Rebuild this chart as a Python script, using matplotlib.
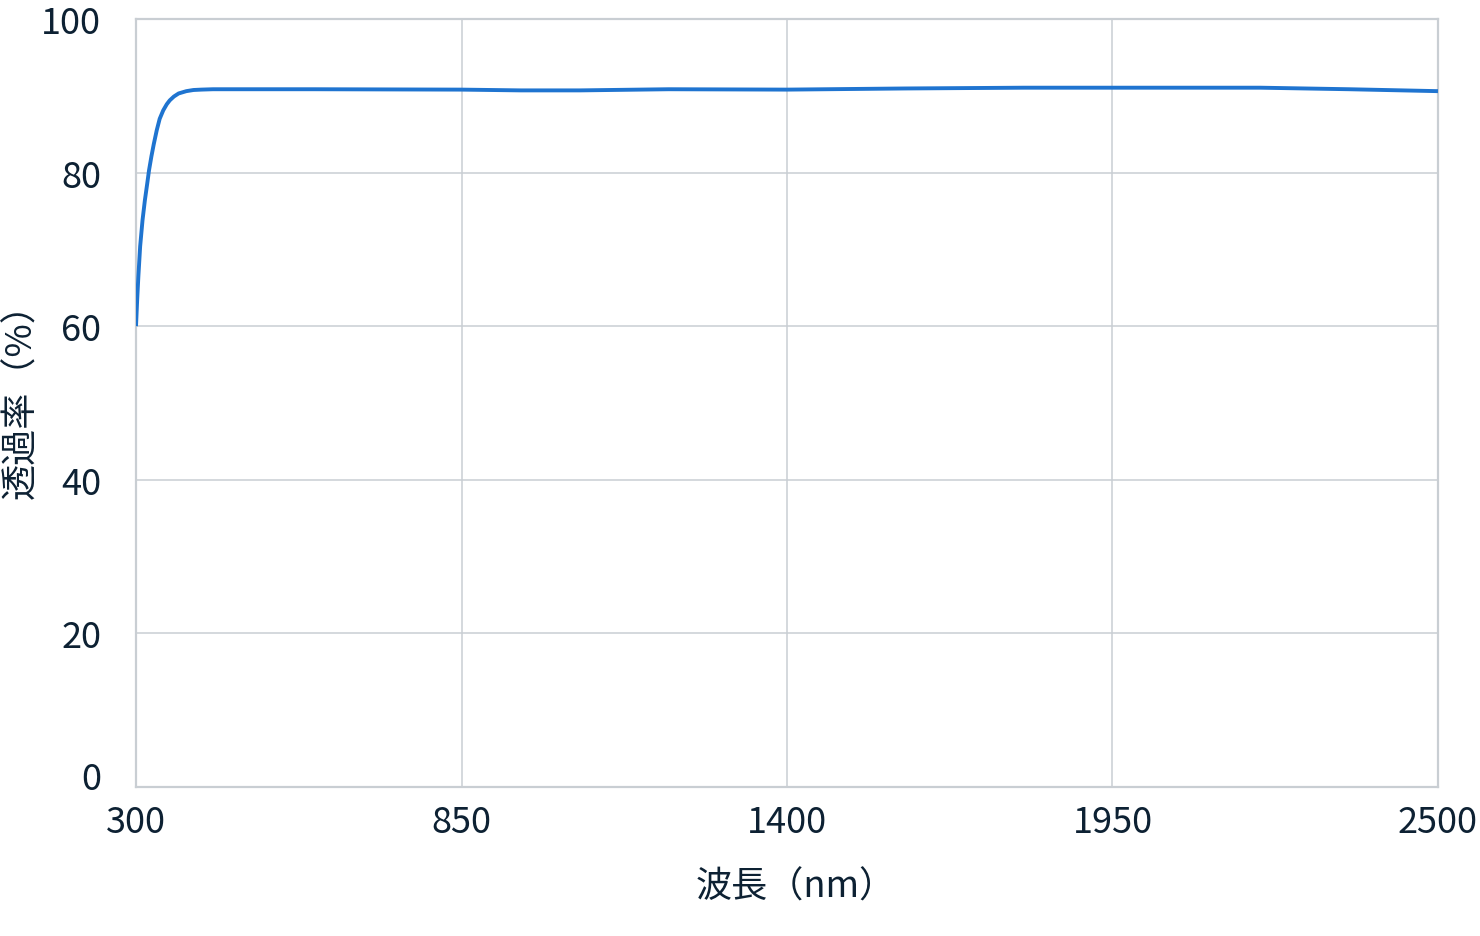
import matplotlib
matplotlib.use("Agg")
import matplotlib.pyplot as plt
import matplotlib.transforms as mtransforms

plt.rcParams['font.family'] = ['Noto Sans CJK JP', 'DejaVu Sans']

# wavelength (nm) and transmittance (%)
wavelength = [300, 302, 304, 307, 311, 315, 319, 322, 326, 330, 335, 340, 346, 352, 357,
              364, 372, 385, 397, 410, 430, 600, 850, 950, 1050, 1100, 1200, 1400,
              1600, 1800, 2000, 2200, 2350, 2500]
transmittance = [60.0, 63.5, 66.5, 70.4, 73.8, 76.4, 78.6, 80.3, 82.1, 83.7, 85.5, 87.0,
                 88.1, 88.9, 89.4, 89.9, 90.3, 90.6, 90.75, 90.8, 90.85, 90.85, 90.8,
                 90.7, 90.7, 90.75, 90.85, 90.8, 90.95, 91.05, 91.05, 91.05, 90.85, 90.6]

x_ticks = [300, 850, 1400, 1950, 2500]
y_ticks = [0, 20, 40, 60, 80, 100]

text_color = '#0d2133'
grid_color = '#c9ced3'

fig = plt.figure(figsize=(14.8, 9.37), dpi=100)
ax = fig.add_axes([0.0919, 0.159, 0.8797, 0.8197])

ax.plot(wavelength, transmittance, color='#1f74d0', linewidth=2.8,
        solid_capstyle='butt', zorder=3)

ax.set_xlim(300, 2500)
ax.set_ylim(0, 100)
ax.set_xticks(x_ticks)
ax.set_yticks(y_ticks)
ax.grid(True, color=grid_color, linewidth=1.1)
ax.set_axisbelow(True)

for s in ax.spines.values():
    s.set_color(grid_color)
    s.set_linewidth(1.6)

ax.tick_params(axis='both', length=0, labelsize=26, labelcolor=text_color)
ax.tick_params(axis='x', pad=12)
ax.tick_params(axis='y', pad=25)

# "0" label sits a bit above the baseline
lbl0 = ax.get_yticklabels()[0]
lbl0.set_transform(lbl0.get_transform() +
                   mtransforms.ScaledTranslation(0, 12 / 100, fig.dpi_scale_trans))

ax.set_xlabel('波長（nm）', fontsize=26, color=text_color)
ax.xaxis.set_label_coords(0.507, -0.1295)
ax.xaxis.label.set_va('center')
ax.set_ylabel('透過率（%）', fontsize=26, color=text_color)
ax.yaxis.set_label_coords(-0.0885, 0.515)
ax.yaxis.label.set_va('center')

fig.savefig('out.png', dpi=100, facecolor='white')
